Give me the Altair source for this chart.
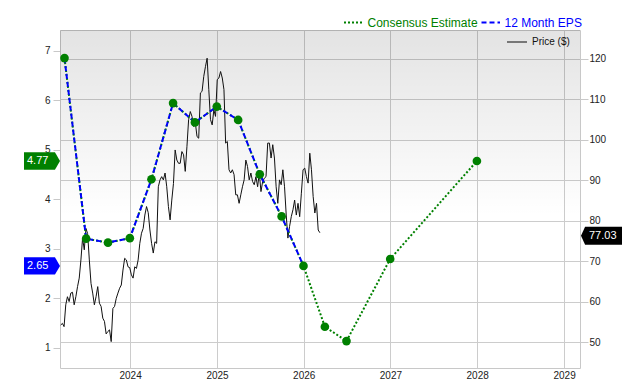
import altair as alt
import pandas as pd

FONT = "Liberation Sans"
GREEN = "#008000"
BLUE = "#0000ff"

# ---- data ----
eps_dates = ["2023-03-31", "2023-06-30", "2023-09-30", "2023-12-31", "2024-03-31",
             "2024-06-30", "2024-09-30", "2024-12-31", "2025-03-31", "2025-06-30",
             "2025-09-30", "2025-12-31"]
eps_values = [6.85, 3.20, 3.12, 3.21, 4.40, 5.94, 5.55, 5.87, 5.60, 4.50, 3.65, 2.65]

est_dates = ["2026-03-31", "2026-06-30", "2026-12-31", "2027-12-31"]
est_values = [1.42, 1.13, 2.79, 4.77]

price_start, price_end = "2023-03-15", "2026-03-10"
price_values = [
    54.2, 54.6, 53.8, 59.2, 61.2, 60.0, 62.1, 62.3, 59.2, 61.2,
    63.7, 65.8, 70.3, 75.7, 72.8, 78.1, 76.8, 70.3, 64.5, 62.1,
    59.2, 61.2, 63.7, 59.6, 58.8, 55.9, 55.1, 52.0, 52.6, 53.0,
    50.1, 58.3, 58.8, 60.8, 62.1, 63.3, 64.1, 67.8, 70.7, 70.3,
    68.6, 68.4, 66.6, 65.8, 68.6, 68.2, 70.3, 74.4, 76.9, 78.1,
    81.4, 83.5, 82.0, 77.7, 74.4, 72.0, 74.8, 74.4, 88.4, 90.1,
    90.9, 90.1, 91.8, 88.4, 83.5, 80.2, 85.1, 89.2, 97.5, 95.0,
    94.2, 94.2, 97.1, 96.3, 92.2, 98.3, 105.0, 107.0, 105.8, 103.3,
    104.2, 100.8, 100.4, 111.6, 112.0, 115.7, 118.1, 120.2, 112.4, 105.0,
    103.7, 107.4, 105.8, 114.9, 115.3, 116.9, 115.3, 112.4, 99.2, 99.6,
    92.6, 91.8, 92.6, 91.4, 86.4, 86.4, 84.3, 86.4, 88.4, 90.1,
    95.0, 93.4, 90.1, 91.8, 89.7, 88.9, 90.9, 88.4, 91.8, 87.2,
    89.7, 90.5, 90.9, 99.2, 99.2, 95.5, 98.8, 95.5, 88.4, 84.3,
    90.1, 88.9, 92.6, 88.4, 81.4, 75.7, 78.6, 81.0, 82.7, 85.1,
    81.4, 84.3, 81.0, 86.8, 92.6, 93.0, 90.9, 89.3, 96.7, 92.6,
    86.0, 81.9, 84.3, 77.7, 77.03,
]

eps_ticks = [1, 2, 3, 4, 5, 6, 7]
price_ticks = [50, 60, 70, 80, 90, 100, 110, 120]
year_ticks = [2024, 2025, 2026, 2027, 2028, 2029]

# ---- tables ----
eps_df = pd.DataFrame({"date": pd.to_datetime(eps_dates), "v": eps_values})
all_df = pd.DataFrame({"date": pd.to_datetime(eps_dates + est_dates),
                       "v": eps_values + est_values})
price_df = pd.DataFrame({
    "date": pd.date_range(price_start, price_end, periods=len(price_values)),
    "p": price_values,
})
est_lbl = pd.DataFrame({"v": [est_values[-1]], "lbl": [f"{est_values[-1]:.2f}"]})
eps_lbl = pd.DataFrame({"v": [eps_values[-1]], "lbl": [f"{eps_values[-1]:.2f}"]})
price_lbl = pd.DataFrame({"p": [price_values[-1]], "lbl": [f"{price_values[-1]:.2f}"]})
one = pd.DataFrame({"k": [0]})

W, H = 520, 338

xscale = alt.Scale(domain=[alt.DateTime(year=2023, month=3, date=12),
                           alt.DateTime(year=2029, month=3, date=9)])
xaxis = alt.Axis(values=[alt.DateTime(year=y, month=1, date=1) for y in year_ticks],
                 format="%Y", grid=True, gridColor="#cccccc", ticks=False,
                 domain=False, labelPadding=2, labelFontSize=10, labelColor="#222",
                 labelFont=FONT, title=None)
X = alt.X("date:T", scale=xscale, axis=xaxis)

left_axis = alt.Axis(orient="left", values=eps_ticks, grid=False, domain=False,
                     tickSize=7, tickColor="#c8c8c8", labelPadding=3,
                     labelFontSize=10, labelColor="#222", labelFont=FONT, title=None)
Yeps = alt.Y("v:Q", scale=alt.Scale(domain=[0.586, 7.418], nice=False, zero=False),
             axis=left_axis)

right_axis = alt.Axis(orient="right", values=price_ticks, grid=True, gridColor="#cccccc",
                      domain=False, tickSize=8, tickColor="#c8c8c8", labelPadding=1,
                      labelFontSize=10, labelColor="#222", labelFont=FONT, title=None)
Yp = alt.Y("p:Q", scale=alt.Scale(domain=[43.57, 127.17], nice=False, zero=False),
           axis=right_axis)

# ---- background gradient ----
bg = alt.Chart(one).mark_rect(
    color=alt.Gradient(
        gradient="linear",
        stops=[alt.GradientStop(color="rgba(0,0,0,0.11)", offset=0),
               alt.GradientStop(color="rgba(0,0,0,0)", offset=0.55)],
        x1=0, x2=0, y1=0, y2=1)
).encode(x=alt.value(0), x2=alt.value(W), y=alt.value(0), y2=alt.value(H))

# ---- price group (right axis) ----
price_line = alt.Chart(price_df).mark_line(color="#111", strokeWidth=1).encode(x=X, y=Yp)
price_box = alt.Chart(price_lbl).mark_point(
    shape="M-1,0L-0.8,-0.44L1,-0.44L1,0.44L-0.8,0.44Z",
    filled=True, color="black", opacity=1, size=1681, yOffset=3
).encode(x=alt.value(541.5), y=Yp)
price_txt = alt.Chart(price_lbl).mark_text(
    align="left", baseline="middle", color="white", fontSize=11, font=FONT, dy=3
).encode(x=alt.value(529), y=Yp, text="lbl:N")
price_group = alt.layer(price_line, price_box, price_txt)

# ---- EPS group (left axis) ----
est_line = alt.Chart(all_df).mark_line(color=GREEN, strokeWidth=2, strokeDash=[2, 2]).encode(x=X, y=Yeps)
eps_line = alt.Chart(eps_df).mark_line(color=BLUE, strokeWidth=2, strokeDash=[5, 3]).encode(x=X, y=Yeps)
pts = alt.Chart(all_df).mark_circle(color=GREEN, opacity=1, size=75).encode(x=X, y=Yeps)

LBOX = "M-1,-0.48L0.72,-0.48L1,0L0.72,0.48L-1,0.48Z"
est_box = alt.Chart(est_lbl).mark_point(shape=LBOX, filled=True, color=GREEN, opacity=1,
                                        size=1296).encode(x=alt.value(-18), y=Yeps)
est_txt = alt.Chart(est_lbl).mark_text(align="left", baseline="middle", color="white",
                                       fontSize=11, font=FONT).encode(
    x=alt.value(-33), y=Yeps, text="lbl:N")
eps_box = alt.Chart(eps_lbl).mark_point(shape=LBOX, filled=True, color=BLUE, opacity=1,
                                        size=1296).encode(x=alt.value(-18), y=Yeps)
eps_txt = alt.Chart(eps_lbl).mark_text(align="left", baseline="middle", color="white",
                                       fontSize=11, font=FONT).encode(
    x=alt.value(-33), y=Yeps, text="lbl:N")
eps_group = alt.layer(est_line, eps_line, pts, est_box, est_txt, eps_box, eps_txt)

# ---- legend ----
leg_est_sym = alt.Chart(one).mark_rule(color=GREEN, strokeWidth=2, strokeDash=[2, 2]).encode(
    x=alt.value(284), x2=alt.value(302), y=alt.value(-7.5))
leg_est_txt = alt.Chart(one).mark_text(align="left", baseline="middle", color=GREEN,
                                       fontSize=12, font=FONT).encode(
    x=alt.value(307.5), y=alt.value(-7.5), text=alt.value("Consensus Estimate"))
leg_eps_sym = alt.Chart(one).mark_rule(color=BLUE, strokeWidth=2, strokeDash=[5, 3]).encode(
    x=alt.value(421.5), x2=alt.value(440), y=alt.value(-7.5))
leg_eps_txt = alt.Chart(one).mark_text(align="left", baseline="middle", color=BLUE,
                                       fontSize=12, font=FONT).encode(
    x=alt.value(444.5), y=alt.value(-7.5), text=alt.value("12 Month EPS"))
leg_p_sym = alt.Chart(one).mark_rule(color="#777", strokeWidth=2).encode(
    x=alt.value(447), x2=alt.value(467), y=alt.value(12))
leg_p_txt = alt.Chart(one).mark_text(align="left", baseline="middle", color="#111",
                                     fontSize=10, font=FONT).encode(
    x=alt.value(472), y=alt.value(12), text=alt.value("Price ($)"))

chart = alt.layer(
    bg, price_group, eps_group,
    leg_est_sym, leg_est_txt, leg_eps_sym, leg_eps_txt, leg_p_sym, leg_p_txt
).resolve_scale(y="independent").properties(
    width=W, height=H,
    autosize=alt.AutoSizeParams(type="none"),
    padding={"left": 60, "top": 30, "right": 60, "bottom": 12},
    background="white",
).configure(font=FONT).configure_view(stroke="#c8c8c8", strokeWidth=1)

chart.save("out.html", embed_options={"renderer": "svg", "actions": False})
